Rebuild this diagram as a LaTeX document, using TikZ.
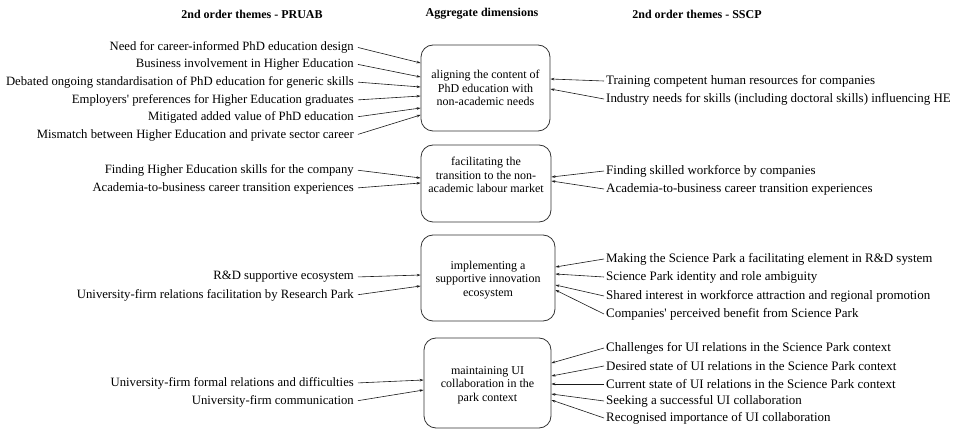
\documentclass[tikz,border=0pt]{standalone}
\usepackage{fontspec}
\setmainfont{Liberation Serif}
\usetikzlibrary{arrows.meta}
\begin{document}
\begin{tikzpicture}[x=1pt,y=-1pt,
  lt/.style={anchor=east,inner sep=2pt,font=\fontsize{12.7}{15}\selectfont},
  rt/.style={anchor=west,inner sep=2pt,font=\fontsize{12.95}{15}\selectfont},
  hd/.style={font=\fontsize{12}{14}\selectfont\bfseries},
  dim/.style={draw=black!80,rounded corners=12pt,line width=0.8pt},
  dimtext/.style={align=center,inner sep=0pt,font=\fontsize{12}{13.4}\selectfont},
  arr/.style={-{Stealth[length=4pt,width=2.6pt]},line width=0.6pt,draw=black!90},
  larr/.style={arr,shorten <=2pt}]
\useasboundingbox (0,0) rectangle (956,430);
% headers
\node[hd] (h1) at (252,14) {2nd order themes - PRUAB};
\node[hd] (h2) at (482,14) {Aggregate dimensions};
\node[hd] (h3) at (697,14) {2nd order themes - SSCP};
% boxes
\node[dim,minimum width=129pt,minimum height=86pt] (b1) at (485.5,88) {};
\node[dimtext] (t1) at (485.5,88) {aligning the content of\\PhD education with\\non-academic needs};
\node[dim,minimum width=130pt,minimum height=77pt] (b2) at (486,183.5) {};
\node[dimtext] (t2) at (486,175) {facilitating the\\transition to the non-\\academic labour market};
\node[dim,minimum width=134pt,minimum height=86pt] (b3) at (488,278) {};
\node[dimtext] (t3) at (488,280) {implementing a\\supportive innovation\\ecosystem};
\node[dim,minimum width=127pt,minimum height=90pt] (b4) at (487.5,383) {};
\node[dimtext] (t4) at (487.5,385) {maintaining UI\\collaboration in the\\park context};
% left group 1
\node[lt] (l11) at (356,47) {Need for career-informed PhD education design};
\node[lt] (l12) at (356,64) {Business involvement in Higher Education};
\node[lt] (l13) at (356,82) {Debated ongoing standardisation of PhD education for generic skills};
\node[lt] (l14) at (356,100) {Employers\textquotesingle{} preferences for Higher Education graduates};
\node[lt] (l15) at (356,117) {Mitigated added value of PhD education};
\node[lt] (l16) at (356,135) {Mismatch between Higher Education and private sector career};
\draw[larr] (l11.east) -- ([yshift=25pt]b1.west);
\draw[larr] (l12.east) -- ([yshift=11pt]b1.west);
\draw[larr] (l13.east) -- ([yshift=1pt]b1.west);
\draw[larr] (l14.east) -- ([yshift=-8pt]b1.west);
\draw[larr] (l15.east) -- ([yshift=-20pt]b1.west);
\draw[larr] (l16.east) -- ([yshift=-27pt]b1.west);
% right group 1
\node[rt] (r11) at (604,81) {Training competent human resources for companies};
\node[rt] (r12) at (604,99) {Industry needs for skills (including doctoral skills) influencing HE};
\draw[arr] (r11.west) -- ([yshift=9pt]b1.east);
\draw[arr] (r12.west) -- ([yshift=-1pt]b1.east);
% left group 2
\node[lt] (l21) at (356,170) {Finding Higher Education skills for the company};
\node[lt] (l22) at (356,188) {Academia-to-business career transition experiences};
\draw[larr] (l21.east) -- ([yshift=5.5pt]b2.west);
\draw[larr] (l22.east) -- ([yshift=0.5pt]b2.west);
% right group 2
\node[rt] (r21) at (604,171) {Finding skilled workforce by companies};
\node[rt] (r22) at (604,189) {Academia-to-business career transition experiences};
\draw[arr] (r21.west) -- ([yshift=6.5pt]b2.east);
\draw[arr] (r22.west) -- ([yshift=2.5pt]b2.east);
% left group 3
\node[lt] (l31) at (356,277) {R\&D supportive ecosystem};
\node[lt] (l32) at (356,295) {University-firm relations facilitation by Research Park};
\draw[larr] (l31.east) -- ([yshift=3pt]b3.west);
\draw[larr] (l32.east) -- ([yshift=-8pt]b3.west);
% right group 3
\node[rt] (r31) at (604,259) {Making the Science Park a facilitating element in R\&D system};
\node[rt] (r32) at (604,277) {Science Park identity and role ambiguity};
\node[rt] (r33) at (604,296) {Shared interest in workforce attraction and regional promotion};
\node[rt] (r34) at (604,314) {Companies\textquotesingle{} perceived benefit from Science Park};
\draw[arr] (r31.west) -- ([yshift=11pt]b3.east);
\draw[arr] (r32.west) -- ([yshift=4pt]b3.east);
\draw[arr] (r33.west) -- ([yshift=-7pt]b3.east);
\draw[arr] (r34.west) -- ([yshift=-12pt]b3.east);
% left group 4
\node[lt] (l41) at (356,383) {University-firm formal relations and difficulties};
\node[lt] (l42) at (356,401) {University-firm communication};
\draw[larr] (l41.east) -- ([yshift=3pt]b4.west);
\draw[larr] (l42.east) -- ([yshift=-7pt]b4.west);
% right group 4
\node[rt] (r41) at (604,348) {Challenges for UI relations in the Science Park context};
\node[rt] (r42) at (604,366) {Desired state of UI relations in the Science Park context};
\node[rt] (r43) at (604,384) {Current state of UI relations in the Science Park context};
\node[rt] (r44) at (604,401) {Seeking a successful UI collaboration};
\node[rt] (r45) at (604,418) {Recognised importance of UI collaboration};
\draw[arr] (r41.west) -- ([yshift=20pt]b4.east);
\draw[arr] (r42.west) -- ([yshift=7pt]b4.east);
\draw[arr] (r43.west) -- ([yshift=-1pt]b4.east);
\draw[arr] (r44.west) -- ([yshift=-11pt]b4.east);
\draw[arr] (r45.west) -- ([yshift=-17pt]b4.east);
\end{tikzpicture}
\end{document}
